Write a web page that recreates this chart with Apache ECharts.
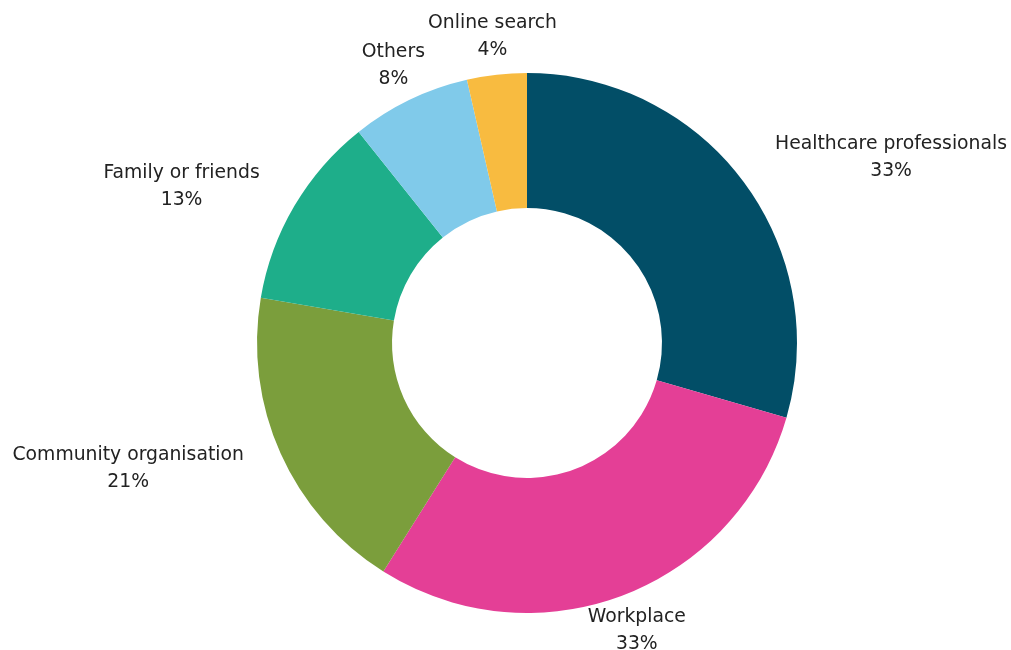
<!DOCTYPE html>
<html>
<head>
<meta charset="utf-8">
<style>
  html, body { margin: 0; padding: 0; background: #ffffff; }
  #chart { width: 1011px; height: 650px; }
</style>
<script src="https://cdn.jsdelivr.net/npm/echarts@6/dist/echarts.min.js"></script>
</head>
<body>
<div id="chart"></div>
<script>
// Where people heard about it (multiple answers allowed, so shares exceed 100%)
const categories = [
  'Healthcare professionals',
  'Workplace',
  'Community organisation',
  'Family or friends',
  'Others',
  'Online search'
];
const shares = [33, 33, 21, 13, 8, 4];
const colors = ['#024e67', '#e43f96', '#7b9e3c', '#1eae8a', '#80caea', '#f8bb40'];

const total = shares.reduce((a, b) => a + b, 0);
// mid angle of each slice, in degrees clockwise from 12 o'clock
const midAngles = [];
let acc = 0;
shares.forEach(v => {
  midAngles.push((acc + v / 2) / total * 360);
  acc += v;
});

const chart = echarts.init(document.getElementById('chart'), null, { renderer: 'canvas' });
chart.setOption({
  backgroundColor: '#ffffff',
  animation: false,
  series: [{
    type: 'pie',
    center: [527, 343],
    radius: [135, 270],
    startAngle: 90,
    clockwise: true,
    avoidLabelOverlap: false,
    data: categories.map((name, i) => ({
      name: name,
      value: shares[i],
      itemStyle: { color: colors[i] }
    })),
    label: {
      show: true,
      position: 'outside',
      distanceToLabelLine: 0,
      formatter: p => p.name + '\n' + shares[p.dataIndex] + '%',
      fontFamily: '"DejaVu Sans", sans-serif',
      fontSize: 18.8,
      lineHeight: 27,
      color: '#222222'
    },
    labelLine: { show: false, length: 38, length2: 0 },
    // Lines inside each label are centred; the block hangs off the
    // anchor point to the left/right, or sits centred on it near the poles.
    labelLayout: function (params) {
      const a = midAngles[params.dataIndex];
      const r = params.labelRect;
      const rightSide = a < 180;
      const anchor = rightSide ? r.x : r.x + r.width;
      const fromVertical = Math.min(a % 180, 180 - (a % 180));
      const gap = 2;
      let x;
      if (fromVertical < 30) x = anchor;
      else x = rightSide ? anchor + gap + r.width / 2 : anchor - gap - r.width / 2;
      return { x: x, align: 'center' };
    },
    emphasis: { disabled: true }
  }]
});
</script>
</body>
</html>
